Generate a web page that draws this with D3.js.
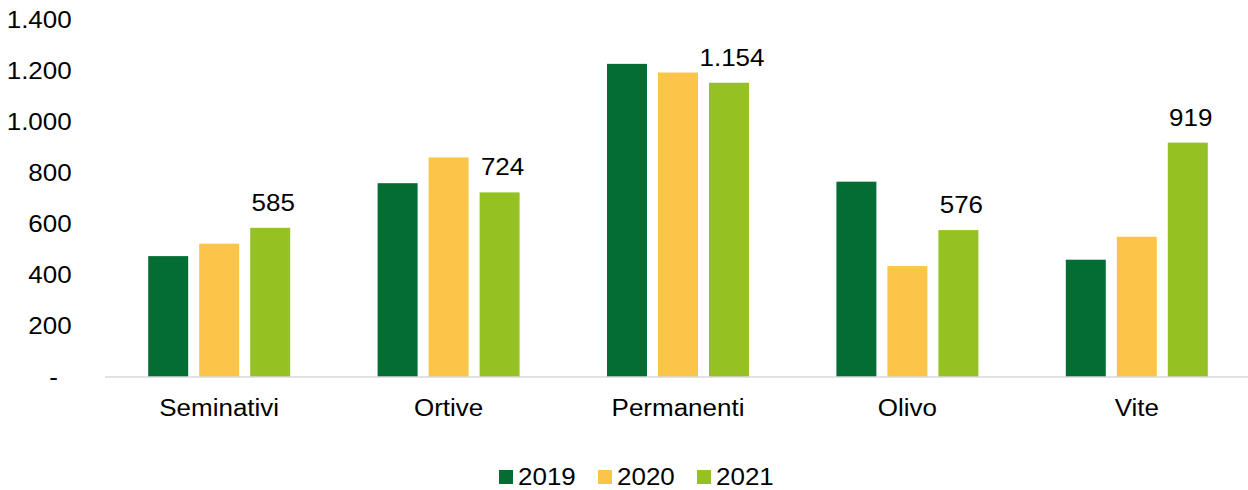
<!DOCTYPE html>
<html>
<head>
<meta charset="utf-8">
<script src="https://cdn.jsdelivr.net/npm/d3@7"></script>
<style>
  html, body { margin: 0; padding: 0; background: #fff; }
  svg { display: block; }
  text { font-family: "Liberation Sans", Arial, sans-serif; fill: #000; }
</style>
</head>
<body>
<svg id="chart" width="1248" height="490"></svg>
<script>
const categories = ["Seminativi", "Ortive", "Permanenti", "Olivo", "Vite"];
const years = ["2019", "2020", "2021"];
const values2019 = [474, 760, 1228, 766, 460];
const values2020 = [523, 861, 1194, 435, 550];
const values2021 = [585, 724, 1154, 576, 919];
const labels2021 = ["585", "724", "1.154", "576", "919"];
const yTicks = [0, 200, 400, 600, 800, 1000, 1200, 1400];
const yTickLabels = ["-", "200", "400", "600", "800", "1.000", "1.200", "1.400"];
const colors = ["#036D34", "#FCC54A", "#95C122"];

const seriesValues = [values2019, values2020, values2021];
const rows = categories.map((c, i) => ({ cat: c, vals: years.map((y, j) => ({ year: y, v: seriesValues[j][i], idx: j })) }));

const svg = d3.select("#chart");
const FS = 23, SX = 1.13;

const x = d3.scaleBand().domain(categories).range([104.5, 1251.5]).padding(0);
const xi = d3.scaleBand().domain(years).range([0, x.bandwidth()]).paddingInner(0.216).paddingOuter(0.857);
const y = d3.scaleLinear().domain([0, 1400]).range([377, 20]);

// Y axis (labels only)
const yAxis = svg.append("g").attr("transform", "translate(105,0)")
  .call(d3.axisLeft(y).tickValues(yTicks).tickFormat((d, i) => yTickLabels[i]).tickSize(0));
yAxis.select(".domain").remove();
yAxis.selectAll("text")
  .attr("x", null).attr("dy", "0.33em")
  .attr("font-size", FS).attr("font-family", "Liberation Sans, Arial, sans-serif").attr("fill", "#000")
  .attr("text-anchor", "end")
  .attr("transform", d => `translate(${d === 0 ? -47 : -33.3},0) scale(${SX},1)`);

// Bars
const groups = svg.append("g").selectAll("g").data(rows).join("g")
  .attr("transform", d => `translate(${x(d.cat)},0)`);
groups.selectAll("rect").data(d => d.vals).join("rect")
  .attr("x", d => xi(d.year))
  .attr("width", xi.bandwidth())
  .attr("y", d => y(d.v))
  .attr("height", d => y(0) - y(d.v))
  .attr("fill", d => colors[d.idx]);

// Data labels for 2021
svg.append("g").selectAll("text").data(rows).join("text")
  .attr("transform", (d, i) => `translate(${x(d.cat) + xi("2021") + xi.bandwidth() / 2 + 3},${y(values2021[i]) - 17}) scale(${SX},1)`)
  .attr("text-anchor", "middle").attr("font-size", FS)
  .text((d, i) => labels2021[i]);

// X axis
const xAxis = svg.append("g").attr("transform", "translate(0,377)")
  .call(d3.axisBottom(x).tickSize(0));
xAxis.select(".domain").remove();
xAxis.append("line").attr("x1", 105).attr("x2", 1248).attr("y1", 0).attr("y2", 0)
  .attr("stroke", "#D9D9D9").attr("stroke-width", 1.5);
xAxis.selectAll(".tick text")
  .attr("y", null).attr("dy", null)
  .attr("font-size", FS).attr("font-family", "Liberation Sans, Arial, sans-serif").attr("fill", "#000")
  .attr("transform", `translate(0,39) scale(${SX},1)`);

// Legend
const legendX = [499, 598, 697];
const legend = svg.append("g").selectAll("g").data(years).join("g")
  .attr("transform", (d, i) => `translate(${legendX[i]},470)`);
legend.append("rect").attr("width", 14).attr("height", 14).attr("fill", (d, i) => colors[i]);
legend.append("text").attr("transform", `translate(19,15) scale(${SX},1)`)
  .attr("font-size", FS).text(d => d);
</script>
</body>
</html>
